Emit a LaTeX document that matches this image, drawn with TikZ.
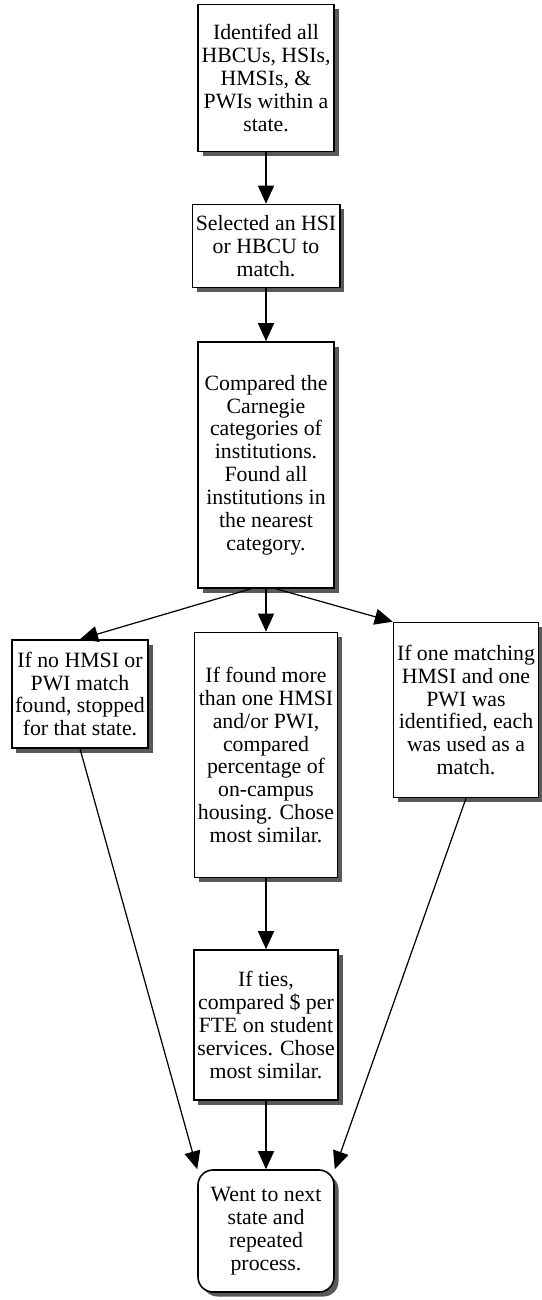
\documentclass[tikz,border=0pt]{standalone}
\usepackage{fontspec}
\setmainfont{Liberation Serif}
\usepackage{tikz}
\usetikzlibrary{arrows.meta, positioning, shadows}

\begin{document}
\begin{tikzpicture}[
    >={Triangle[length=0.36cm, width=0.32cm]},
    flow/.style={draw, line width=0.7pt, ->},
    stepbox/.style={draw, line width=0.9pt, fill=white, align=center, inner sep=2pt,
        font=\fontsize{12.4}{13}\selectfont,
        drop shadow={shadow xshift=0.09cm, shadow yshift=-0.09cm, fill=black!65, opacity=1}},
    endbox/.style={stepbox, rounded corners=0.3cm},
]
    \useasboundingbox (0,0) rectangle (10.82,-26);

    \node[stepbox, minimum width=2.72cm, minimum height=2.94cm] (ident) at (5.32, -1.56)
        {Identifed all\\HBCUs, HSIs,\\HMSIs, \&\\PWIs within a\\state.};
    \node[stepbox, minimum width=2.68cm, minimum height=1.66cm] (select) at (5.32, -4.92)
        {Selected an HSI\\or HBCU to\\match.};
    \node[stepbox, minimum width=2.72cm, minimum height=4.92cm] (compare) at (5.32, -9.30)
        {Compared the\\Carnegie\\categories of\\institutions.\\Found all\\institutions in\\the nearest\\category.};

    % three outcomes
    \node[stepbox, minimum width=2.68cm, minimum height=2.16cm] (nomatch) at (1.60, -13.88)
        {If no HMSI or\\PWI match\\found, stopped\\for that state.};
    \node[stepbox, minimum width=2.68cm, minimum height=4.90cm] (more) at (5.32, -15.10)
        {If found more\\than one HMSI\\and/or PWI,\\compared\\percentage of\\on-campus\\housing. Chose\\most similar.};
    \node[stepbox, minimum width=2.86cm, minimum height=3.50cm] (onematch) at (9.32, -14.20)
        {If one matching\\HMSI and one\\PWI was\\identified, each\\was used as a\\match.};

    \node[stepbox, minimum width=2.74cm, minimum height=3.00cm] (ties) at (5.32, -20.50)
        {If ties,\\compared \$ per\\FTE on student\\services. Chose\\most similar.};
    \node[endbox, minimum width=2.72cm, minimum height=2.44cm] (next) at (5.32, -24.62)
        {Went to next\\state and\\repeated\\process.};

    \draw[flow] (ident) -- (select);
    \draw[flow] (select) -- (compare);
    \draw[flow] ([xshift=-0.3cm]compare.south) -- (nomatch.north);
    \draw[flow] (compare) -- (more);
    \draw[flow] ([xshift=0.2cm]compare.south) -- (onematch.north west);
    \draw[flow] (more) -- (ties);
    \draw[flow] (nomatch.south) -- (next.north west);
    \draw[flow] (ties) -- (next);
    \draw[flow] (onematch.south) -- (next.north east);
\end{tikzpicture}
\end{document}
